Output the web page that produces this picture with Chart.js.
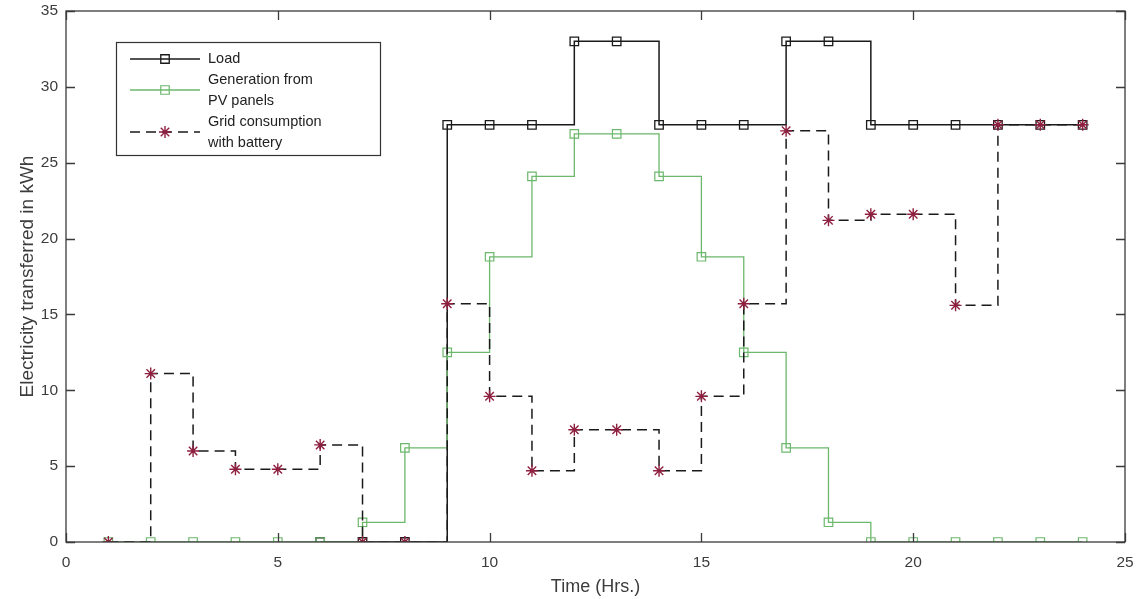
<!DOCTYPE html>
<html>
<head>
<meta charset="utf-8">
<script src="https://cdn.jsdelivr.net/npm/chart.js@4.4.1/dist/chart.umd.min.js"></script>
<style>
    html, body { margin: 0; padding: 0; background: #fff; }
    #wrap { width: 1139px; height: 599px; }
</style>
</head>
<body>
<div id="wrap"><canvas id="plot" width="1139" height="599"></canvas></div>
<script>
// hours of the day (x values)
let hours = [1, 2, 3, 4, 5, 6, 7, 8, 9, 10, 11, 12, 13, 14, 15, 16, 17, 18, 19, 20, 21, 22, 23, 24]

// kWh per hour (null = not drawn)
let loadValues = [null, null, null, null, null, 0, 0, 0, 27.5, 27.5, 27.5, 33, 33, 27.5, 27.5, 27.5, 33, 33, 27.5, 27.5, 27.5, 27.5, 27.5, 27.5]
let pvValues = [0, 0, 0, 0, 0, 0, 1.3, 6.2, 12.5, 18.8, 24.1, 26.9, 26.9, 24.1, 18.8, 12.5, 6.2, 1.3, 0, 0, 0, 0, 0, 0]
let gridValues = [0, 11.1, 6.0, 4.8, 4.8, 6.4, 0, 0, 15.7, 9.6, 4.7, 7.4, 7.4, 4.7, 9.6, 15.7, 27.1, 21.2, 21.6, 21.6, 15.6, 27.5, 27.5, 27.5]

let xTicks = [0, 5, 10, 15, 20, 25]
let yTicks = [0, 5, 10, 15, 20, 25, 30, 35]

let seriesNames = ['Load', ['Generation from', 'PV panels'], ['Grid consumption', 'with battery']]

const LOAD_COLOR = '#1a1a1a'
const PV_COLOR = '#6cb86c'
const GRID_LINE = '#1a1a1a'
const GRID_MARK = '#8e1f3f'
const AXIS_COLOR = '#3a3a3a'
const TEXT_COLOR = '#3c3c3c'
const FONT = '"Liberation Sans", Arial, sans-serif'

function toPoints(values) {
    return hours.map((h, i) => ({ x: h, y: values[i] }))
}

// box around the plot, inward ticks on all four sides, and the legend
const framePlugin = {
    id: 'frame',
    afterDraw(chart) {
        const ctx = chart.ctx
        const a = chart.chartArea
        const xs = chart.scales.x
        const ys = chart.scales.y
        ctx.save()
        ctx.strokeStyle = AXIS_COLOR
        ctx.lineWidth = 1.3
        ctx.strokeRect(a.left, a.top, a.right - a.left, a.bottom - a.top)

        const tick = 9
        ctx.beginPath()
        xTicks.forEach(v => {
            const px = Math.round(xs.getPixelForValue(v)) + 0.5
            ctx.moveTo(px, a.bottom); ctx.lineTo(px, a.bottom - tick)
            ctx.moveTo(px, a.top); ctx.lineTo(px, a.top + tick)
        })
        yTicks.forEach(v => {
            const py = Math.round(ys.getPixelForValue(v)) + 0.5
            ctx.moveTo(a.left, py); ctx.lineTo(a.left + tick, py)
            ctx.moveTo(a.right, py); ctx.lineTo(a.right - tick, py)
        })
        ctx.stroke()

        // legend
        const box = { x: 116, y: 42, w: 264, h: 113 }
        ctx.fillStyle = '#fff'
        ctx.fillRect(box.x, box.y, box.w, box.h)
        ctx.strokeStyle = '#333'
        ctx.lineWidth = 1.2
        ctx.strokeRect(box.x + 0.5, box.y + 0.5, box.w, box.h)

        const rows = [
            { lineY: 59, textY: [59], ds: chart.data.datasets[2] },
            { lineY: 90, textY: [80, 101], ds: chart.data.datasets[1] },
            { lineY: 132, textY: [122, 143], ds: chart.data.datasets[0] }
        ]
        rows.forEach(r => {
            const ds = r.ds
            ctx.save()
            ctx.strokeStyle = ds.borderColor
            ctx.lineWidth = ds.borderWidth
            ctx.setLineDash(ds.borderDash || [])
            ctx.beginPath()
            ctx.moveTo(130, r.lineY); ctx.lineTo(200, r.lineY)
            ctx.stroke()
            ctx.restore()

            ctx.save()
            ctx.fillStyle = 'rgba(0,0,0,0)'
            ctx.strokeStyle = ds.pointBorderColor
            ctx.lineWidth = ds.pointBorderWidth
            ctx.setLineDash([])
            Chart.helpers.drawPoint(ctx, {
                pointStyle: ds.pointStyle,
                radius: ds.pointRadius,
                borderWidth: ds.pointBorderWidth,
                rotation: 0
            }, 165, r.lineY)
            ctx.restore()
        })

        ctx.fillStyle = '#222'
        ctx.font = '14.5px ' + FONT
        ctx.textBaseline = 'middle'
        ctx.textAlign = 'left'
        rows.forEach((r, i) => {
            const txt = Array.isArray(seriesNames[i]) ? seriesNames[i] : [seriesNames[i]]
            txt.forEach((t, j) => ctx.fillText(t, 208, r.textY[j]))
        })
        ctx.restore()
    }
}

const ctx = document.getElementById('plot').getContext('2d')
const myChart = new Chart(ctx, {
    type: 'line',
    data: {
        datasets: [
            {
                label: 'Grid consumption with battery',
                data: toPoints(gridValues),
                stepped: 'before',
                borderColor: GRID_LINE,
                borderWidth: 1.5,
                borderDash: [10, 6],
                pointStyle: 'star',
                pointRadius: 6,
                pointBorderColor: GRID_MARK,
                pointBackgroundColor: GRID_MARK,
                pointBorderWidth: 1.4,
                fill: false
            },
            {
                label: 'Generation from PV panels',
                data: toPoints(pvValues),
                stepped: 'before',
                borderColor: PV_COLOR,
                borderWidth: 1.3,
                pointStyle: 'rect',
                pointRadius: 6,
                pointBorderColor: PV_COLOR,
                pointBackgroundColor: 'rgba(0,0,0,0)',
                pointBorderWidth: 1.2,
                fill: false
            },
            {
                label: 'Load',
                data: toPoints(loadValues),
                stepped: 'before',
                borderColor: LOAD_COLOR,
                borderWidth: 1.5,
                pointStyle: 'rect',
                pointRadius: 6,
                pointBorderColor: LOAD_COLOR,
                pointBackgroundColor: 'rgba(0,0,0,0)',
                pointBorderWidth: 1.3,
                fill: false
            }
        ]
    },
    options: {
        responsive: false,
        animation: false,
        devicePixelRatio: 1,
        layout: { padding: { left: 0, right: 14, top: 11, bottom: 0 } },
        plugins: {
            legend: { display: false },
            tooltip: { enabled: false }
        },
        scales: {
            x: {
                type: 'linear',
                min: 0,
                max: 25,
                grid: { display: false, drawTicks: false },
                border: { display: false },
                ticks: {
                    stepSize: 5,
                    color: TEXT_COLOR,
                    font: { family: FONT, size: 15.5 },
                    padding: 11,
                    maxRotation: 0
                },
                title: {
                    display: true,
                    text: 'Time (Hrs.)',
                    color: TEXT_COLOR,
                    font: { family: FONT, size: 18 },
                    padding: { top: 0, bottom: 1 }
                },
                afterFit(scale) {
                    scale.height = 57
                    scale.paddingLeft = 0
                    scale.paddingRight = 0
                }
            },
            y: {
                min: 0,
                max: 35,
                grid: { display: false, drawTicks: false },
                border: { display: false },
                ticks: {
                    stepSize: 5,
                    color: TEXT_COLOR,
                    font: { family: FONT, size: 15.5 },
                    padding: 8
                },
                title: {
                    display: true,
                    text: 'Electricity transferred in kWh',
                    color: TEXT_COLOR,
                    font: { family: FONT, size: 19 },
                    padding: { top: 16, bottom: 0 }
                },
                afterFit(scale) {
                    scale.width = 66
                    scale.paddingTop = 0
                    scale.paddingBottom = 0
                }
            }
        }
    },
    plugins: [framePlugin]
})
</script>
</body>
</html>
